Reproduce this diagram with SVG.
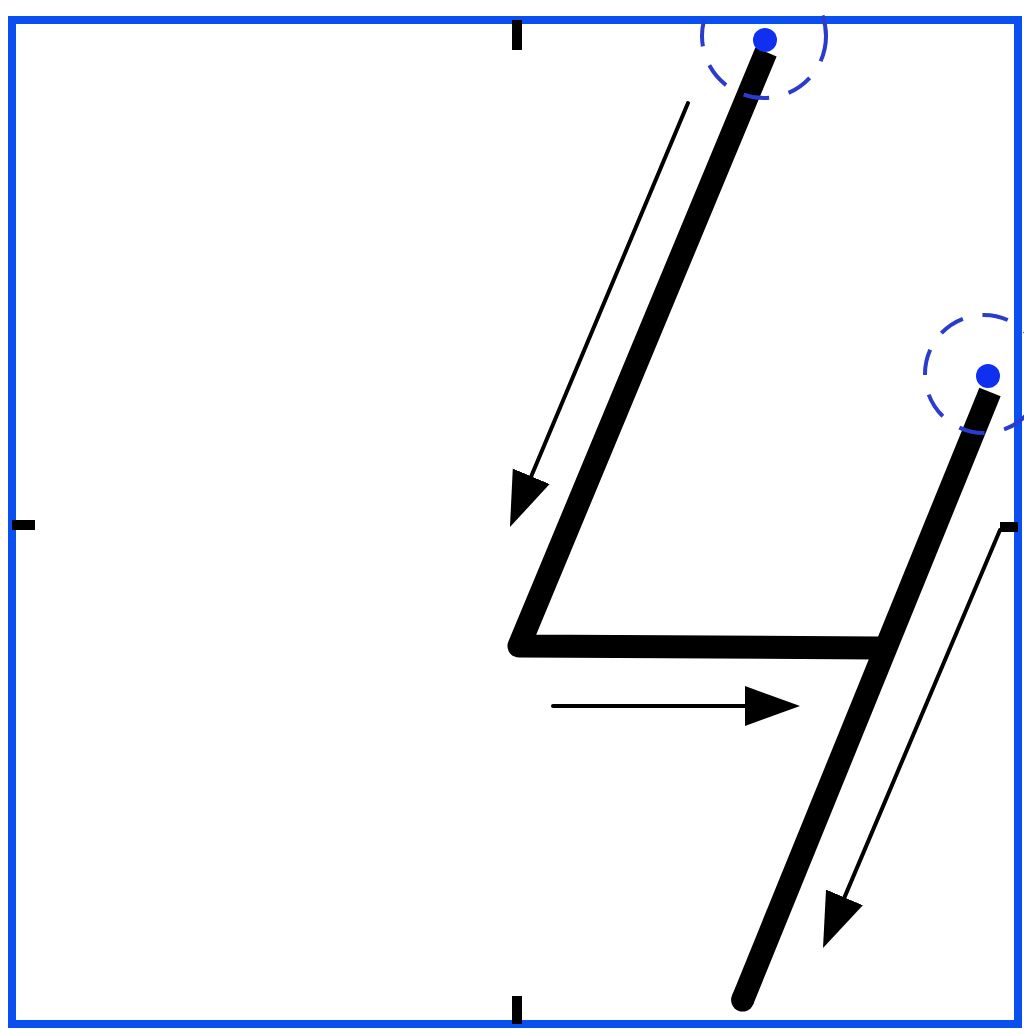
<svg xmlns="http://www.w3.org/2000/svg" width="1024" height="1029" viewBox="0 0 1024 1029">
<style>
.frame{fill:none;stroke:#0a50f0;stroke-width:8}
.tick{stroke:#000;stroke-width:10;fill:none}
.stroke{fill:none;stroke:#000;stroke-width:23;stroke-linecap:butt;stroke-linejoin:round}
.guide{fill:none;stroke:#000;stroke-width:4;stroke-linecap:round}
.start{fill:#1030f0}
.ring{fill:none;stroke:#2a3ccc;stroke-width:4;stroke-dasharray:26 20}
</style>
<defs>
<marker id="ah" markerUnits="userSpaceOnUse" markerWidth="56" markerHeight="42" refX="35" refY="20" orient="auto">
<path d="M0,0 L55,20 L0,40 z" fill="#000"/>
</marker>
<clipPath id="inner"><rect x="0" y="14" width="1024" height="1015"/></clipPath>
</defs>
<rect width="1024" height="1029" fill="#fff"/>
<g id="frame">
<rect class="frame" x="12" y="20" width="1006" height="1004"/>
<line class="tick" x1="517" y1="20" x2="517" y2="50"/>
<line class="tick" x1="517" y1="996" x2="517" y2="1024"/>
<line class="tick" x1="12" y1="525" x2="35" y2="525"/>
<line class="tick" x1="1000" y1="527" x2="1018" y2="527"/>
</g>
<g id="stroke1">
<polyline class="stroke" points="766,52 519,646 878,648"/>
</g>
<g id="stroke2">
<line class="stroke" x1="990" y1="392" x2="742.6" y2="1000"/>
<circle cx="742.6" cy="1000" r="11.5" fill="#000"/>
</g>
<g id="start1" clip-path="url(#inner)">
<circle class="ring" cx="764" cy="36" r="62"/>
<circle class="start" cx="765" cy="40" r="12"/>
</g>
<g id="start2">
<circle class="ring" cx="984" cy="374" r="59"/>
<circle class="start" cx="988" cy="376" r="12"/>
</g>
<g id="connectors">
<line class="guide" x1="688" y1="103" x2="517.7" y2="508.6" marker-end="url(#ah)"/>
<line class="guide" x1="553" y1="706" x2="780" y2="706" marker-end="url(#ah)"/>
<line class="guide" x1="1000" y1="530" x2="830.8" y2="929.6" marker-end="url(#ah)"/>
</g>
</svg>
